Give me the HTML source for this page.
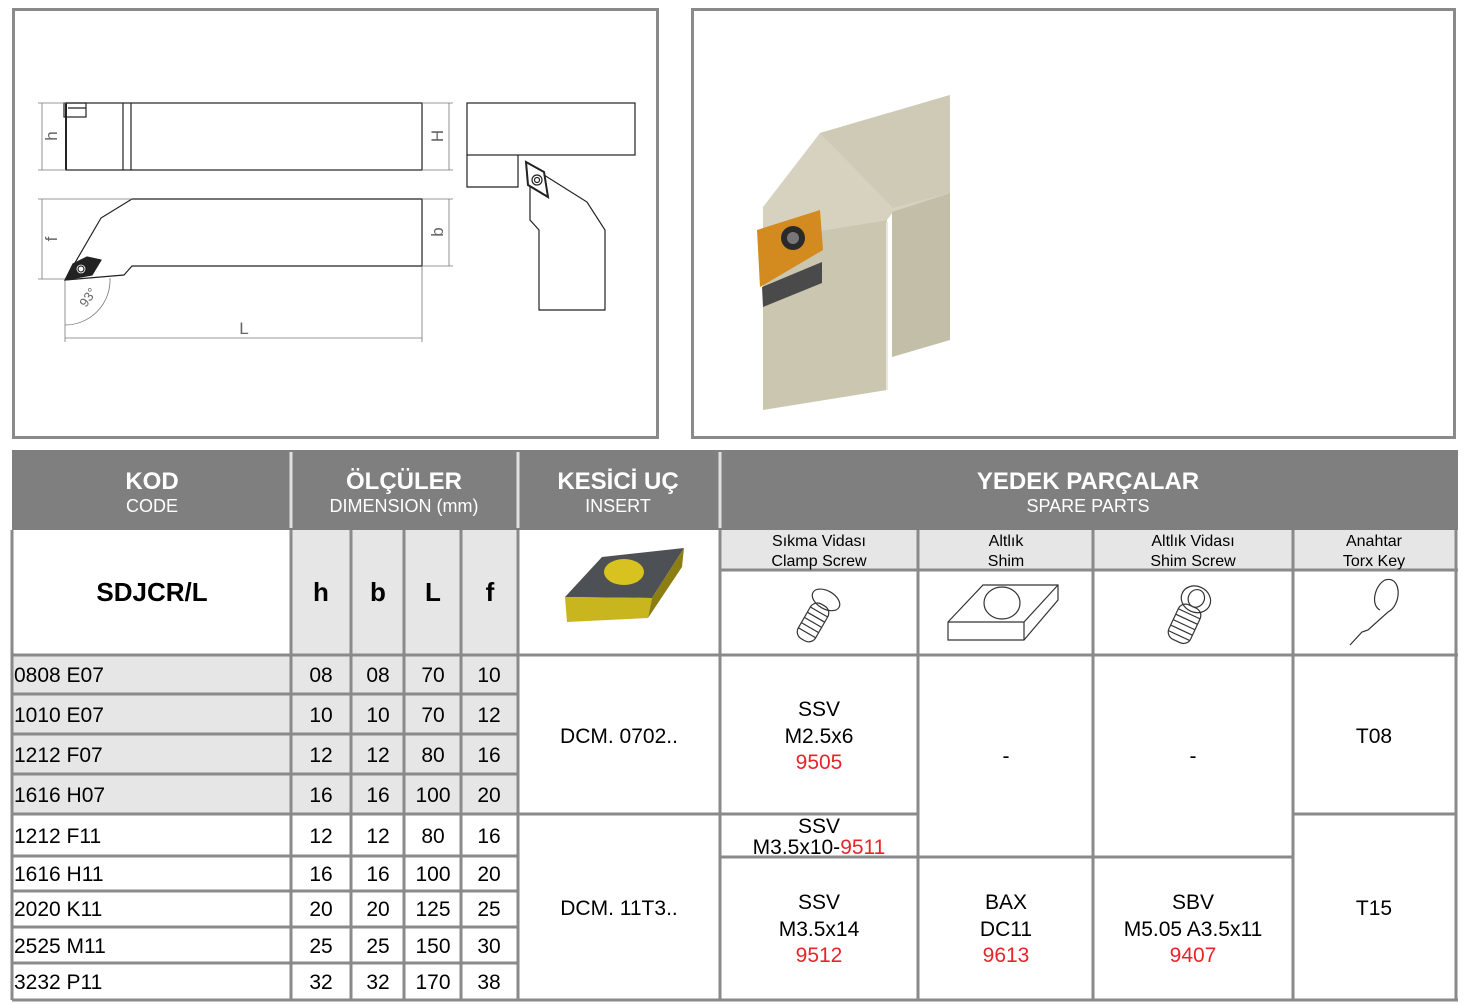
<!DOCTYPE html>
<html><head><meta charset="utf-8"><style>
html,body{margin:0;padding:0;background:#fff;}
svg{display:block;font-family:"Liberation Sans",Arial,sans-serif;}
</style></head><body>
<svg width="1467" height="1004" viewBox="0 0 1467 1004" xmlns="http://www.w3.org/2000/svg">
<!-- top panels -->
<rect x="13.5" y="9.5" width="644" height="428" fill="#fff" stroke="#8a8a8a" stroke-width="3"/>
<rect x="692.5" y="9.5" width="762" height="428" fill="#fff" stroke="#8a8a8a" stroke-width="3"/>

<!-- technical drawing -->
<g fill="none" stroke="#222" stroke-width="1.2">
  <rect x="66" y="103" width="356" height="67"/>
  <line x1="123" y1="103" x2="123" y2="170"/><line x1="131" y1="103" x2="131" y2="170"/>
  <rect x="64" y="103" width="22" height="14"/>
  <line x1="68" y1="108" x2="86" y2="108"/>
  <line x1="66" y1="103" x2="66" y2="170" stroke-width="2"/>
  <path d="M132 199 L422 199 L422 266 L132 266 L124 275 L65 280 L101 218 Z"/>
  <path d="M65 280 L73 264 L87 257 L101 260 L92 275 Z" fill="#222"/>
  <circle cx="81" cy="269" r="5" fill="#fff"/><circle cx="81" cy="269" r="3"/>
  <rect x="467" y="103" width="168" height="52"/>
  <path d="M467 155 L467 187 L518 187 L518 155"/>
  <path d="M530 187 L530 220 L539 230 L539 310 L605 310 L605 230 L587 202 L544 175"/>
  <path d="M526 162 L544 172 L548 197 L528 185 Z" stroke-width="2"/>
  <circle cx="537" cy="180" r="5"/><circle cx="537" cy="180" r="2.5"/>
</g>
<g stroke="#777" stroke-width="0.8" fill="none">
  <line x1="42" y1="103" x2="42" y2="170"/><line x1="38" y1="103" x2="66" y2="103"/><line x1="38" y1="170" x2="66" y2="170"/>
  <line x1="449" y1="103" x2="449" y2="170"/><line x1="422" y1="103" x2="453" y2="103"/><line x1="422" y1="170" x2="453" y2="170"/>
  <line x1="42" y1="199" x2="42" y2="279"/><line x1="38" y1="199" x2="132" y2="199"/><line x1="38" y1="279" x2="65" y2="279"/>
  <line x1="449" y1="199" x2="449" y2="266"/><line x1="422" y1="199" x2="453" y2="199"/><line x1="422" y1="266" x2="453" y2="266"/>
  <line x1="65" y1="338" x2="422" y2="338"/><line x1="65" y1="280" x2="65" y2="342"/><line x1="422" y1="266" x2="422" y2="342"/>
  <path d="M65 325 A45 45 0 0 0 110 278"/>
</g>
<g fill="#666" font-size="17">
  <text x="0" y="0" transform="translate(57,136) rotate(-90)" text-anchor="middle">h</text>
  <text x="0" y="0" transform="translate(443,136) rotate(-90)" text-anchor="middle">H</text>
  <text x="0" y="0" transform="translate(57,239) rotate(-90)" text-anchor="middle">f</text>
  <text x="0" y="0" transform="translate(443,232) rotate(-90)" text-anchor="middle">b</text>
  <text x="244" y="334" text-anchor="middle">L</text>
  <text x="0" y="0" font-size="13" transform="translate(86,308) rotate(-55)">93°</text>
</g>

<!-- photo -->
<polygon points="763,207 820,133 950,95 950,193 893,212 887,220 763,240" fill="#d6d2bf"/>
<polygon points="820,133 950,95 950,193 893,208" fill="#cfcab5"/>
<polygon points="763,240 887,220 887,390 763,410" fill="#cbc6b0"/>
<polygon points="892,212 950,193 950,340 892,357" fill="#c3bea8"/>
<line x1="887" y1="222" x2="887" y2="390" stroke="#e8e5da" stroke-width="2"/>
<polygon points="757,230 820,210 823,250 760,287" fill="#d38a1e"/>
<polygon points="762,287 822,262 822,283 763,307" fill="#4a4a4a"/>
<circle cx="793" cy="238" r="12" fill="#2a2a2a"/><circle cx="793" cy="238" r="6" fill="#777"/>

<!-- table -->
<rect x="12" y="450" width="1446" height="80" fill="#7f7f7f"/>
<rect x="12" y="530" width="1446" height="470" fill="#fff"/>
<rect x="720" y="530" width="736" height="40" fill="#e6e6e6"/>
<rect x="291" y="530" width="227" height="125" fill="#e6e6e6"/>
<rect x="12" y="655" width="506" height="159" fill="#e6e6e6"/>

<g fill="#fff" text-anchor="middle">
  <text x="152" y="489" font-size="24" font-weight="bold">KOD</text>
  <text x="152" y="512" font-size="18">CODE</text>
  <text x="404" y="489" font-size="24" font-weight="bold">ÖLÇÜLER</text>
  <text x="404" y="512" font-size="18">DIMENSION (mm)</text>
  <text x="618" y="489" font-size="24" font-weight="bold">KESİCİ UÇ</text>
  <text x="618" y="512" font-size="18">INSERT</text>
  <text x="1088" y="489" font-size="24" font-weight="bold">YEDEK PARÇALAR</text>
  <text x="1088" y="512" font-size="18">SPARE PARTS</text>
</g>
<g stroke="#e0e0e0" stroke-width="3">
  <line x1="291" y1="452" x2="291" y2="528"/><line x1="518" y1="452" x2="518" y2="528"/><line x1="720" y1="452" x2="720" y2="528"/>
</g>

<g stroke="#8a8a8a" stroke-width="3" fill="none">
  <line x1="12" y1="1000" x2="1458" y2="1000"/>
  <line x1="12" y1="655" x2="1458" y2="655"/>
  <line x1="720" y1="570" x2="1458" y2="570"/>
  <line x1="12" y1="530" x2="12" y2="1000"/>
  <line x1="1456" y1="530" x2="1456" y2="1000"/>
  <line x1="291" y1="530" x2="291" y2="1000"/>
  <line x1="351" y1="530" x2="351" y2="1000"/>
  <line x1="404" y1="530" x2="404" y2="1000"/>
  <line x1="461" y1="530" x2="461" y2="1000"/>
  <line x1="518" y1="530" x2="518" y2="1000"/>
  <line x1="720" y1="530" x2="720" y2="1000"/>
  <line x1="918" y1="530" x2="918" y2="1000"/>
  <line x1="1093" y1="530" x2="1093" y2="1000"/>
  <line x1="1293" y1="530" x2="1293" y2="1000"/>
  <line x1="12" y1="694" x2="518" y2="694"/>
  <line x1="12" y1="734" x2="518" y2="734"/>
  <line x1="12" y1="774" x2="518" y2="774"/>
  <line x1="12" y1="814" x2="720" y2="814"/>
  <line x1="12" y1="856" x2="518" y2="856"/>
  <line x1="12" y1="891" x2="518" y2="891"/>
  <line x1="12" y1="927" x2="518" y2="927"/>
  <line x1="12" y1="963" x2="518" y2="963"/>
  <line x1="720" y1="814" x2="918" y2="814"/>
  <line x1="720" y1="857" x2="1293" y2="857"/>
  <line x1="1293" y1="814" x2="1456" y2="814"/>
</g>

<g fill="#000" font-size="22" text-anchor="middle">
  <text x="152" y="601" font-size="26" font-weight="bold">SDJCR/L</text>
  <text x="321" y="601" font-size="26" font-weight="bold">h</text>
  <text x="378" y="601" font-size="26" font-weight="bold">b</text>
  <text x="433" y="601" font-size="26" font-weight="bold">L</text>
  <text x="490" y="601" font-size="26" font-weight="bold">f</text>
</g>
<g fill="#000" font-size="16" text-anchor="middle">
  <text x="819" y="546">Sıkma Vidası</text><text x="819" y="566">Clamp Screw</text>
  <text x="1006" y="546">Altlık</text><text x="1006" y="566">Shim</text>
  <text x="1193" y="546">Altlık Vidası</text><text x="1193" y="566">Shim Screw</text>
  <text x="1374" y="546">Anahtar</text><text x="1374" y="566">Torx Key</text>
</g>

<!-- insert icon -->
<polygon points="565,597 602,557 684,548 652,598" fill="#4d5054"/>
<polygon points="565,597 652,598 648,618 567,622" fill="#c9b51d"/>
<polygon points="652,598 684,548 682,567 648,618" fill="#8d7e14"/>
<ellipse cx="624" cy="572" rx="20" ry="13" fill="#d8c21f"/>

<!-- spare icons -->
<g fill="none" stroke="#333" stroke-width="1.2">
  <g transform="translate(819,612) rotate(30)">
    <rect x="-10" y="-8" width="20" height="40" rx="8"/>
    <path d="M-10 0 H10 M-10 6 H10 M-10 12 H10 M-10 18 H10 M-10 24 H10"/>
    <ellipse cx="0" cy="-14" rx="15" ry="9"/>
  </g>
  <path d="M948 622 L983 585 L1058 585 L1058 600 L1024 640 L948 640 Z"/>
  <path d="M948 622 L1024 622 L1058 585 M1024 622 L1024 640"/>
  <ellipse cx="1002" cy="603" rx="18" ry="16"/>
  <g transform="translate(1190,612) rotate(25)">
    <rect x="-12" y="-6" width="24" height="38" rx="8"/>
    <path d="M-12 2 H12 M-12 8 H12 M-12 14 H12 M-12 20 H12 M-12 26 H12"/>
    <ellipse cx="0" cy="-14" rx="15" ry="13"/><ellipse cx="0" cy="-15" rx="8" ry="9"/>
  </g>
  <path d="M1385 580 C1402 575 1402 605 1388 612 L1368 630 L1362 632 L1350 645 M1385 580 C1375 585 1370 605 1380 610"/>
</g>

<!-- data -->
<g fill="#000" font-size="21">
  <text x="14" y="682">0808 E07</text><text x="14" y="722">1010 E07</text>
  <text x="14" y="762">1212 F07</text><text x="14" y="802">1616 H07</text>
  <text x="14" y="843">1212 F11</text><text x="14" y="881">1616 H11</text>
  <text x="14" y="916">2020 K11</text><text x="14" y="953">2525 M11</text>
  <text x="14" y="989">3232 P11</text>
</g>
<g fill="#000" font-size="21" text-anchor="middle">
  <text x="321" y="682">08</text><text x="378" y="682">08</text><text x="433" y="682">70</text><text x="489" y="682">10</text>
  <text x="321" y="722">10</text><text x="378" y="722">10</text><text x="433" y="722">70</text><text x="489" y="722">12</text>
  <text x="321" y="762">12</text><text x="378" y="762">12</text><text x="433" y="762">80</text><text x="489" y="762">16</text>
  <text x="321" y="802">16</text><text x="378" y="802">16</text><text x="433" y="802">100</text><text x="489" y="802">20</text>
  <text x="321" y="843">12</text><text x="378" y="843">12</text><text x="433" y="843">80</text><text x="489" y="843">16</text>
  <text x="321" y="881">16</text><text x="378" y="881">16</text><text x="433" y="881">100</text><text x="489" y="881">20</text>
  <text x="321" y="916">20</text><text x="378" y="916">20</text><text x="433" y="916">125</text><text x="489" y="916">25</text>
  <text x="321" y="953">25</text><text x="378" y="953">25</text><text x="433" y="953">150</text><text x="489" y="953">30</text>
  <text x="321" y="989">32</text><text x="378" y="989">32</text><text x="433" y="989">170</text><text x="489" y="989">38</text>
  <text x="619" y="743">DCM. 0702..</text>
  <text x="619" y="915">DCM. 11T3..</text>
  <text x="819" y="716">SSV</text><text x="819" y="743">M2.5x6</text><text x="819" y="769" fill="#e8242a">9505</text>
  <text x="819" y="833">SSV</text>
  <text x="819" y="854">M3.5x10-<tspan fill="#e8242a">9511</tspan></text>
  <text x="819" y="909">SSV</text><text x="819" y="936">M3.5x14</text><text x="819" y="962" fill="#e8242a">9512</text>
  <text x="1006" y="763">-</text><text x="1193" y="763">-</text>
  <text x="1006" y="909">BAX</text><text x="1006" y="936">DC11</text><text x="1006" y="962" fill="#e8242a">9613</text>
  <text x="1193" y="909">SBV</text><text x="1193" y="936">M5.05 A3.5x11</text><text x="1193" y="962" fill="#e8242a">9407</text>
  <text x="1374" y="743">T08</text><text x="1374" y="915">T15</text>
</g>
</svg>
</body></html>
